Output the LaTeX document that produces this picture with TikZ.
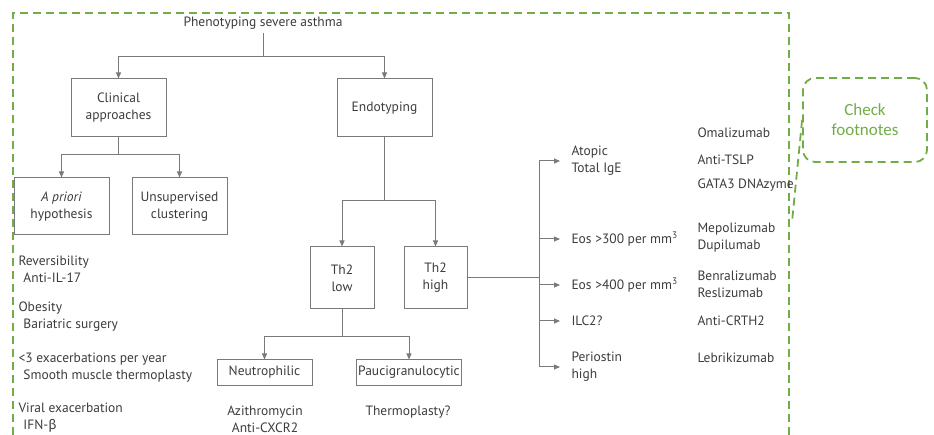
\documentclass[tikz,border=0pt]{standalone}
\usepackage{fontspec}
\setmainfont{PT Sans}
\newfontfamily\notefont{Carlito}
\newfontfamily\greekfont{Fira Sans}
\usetikzlibrary{arrows.meta}
\definecolor{linegray}{HTML}{7A7A7A}
\definecolor{txtgray}{HTML}{3C3C3C}
\definecolor{notegreen}{HTML}{70AD47}
\tikzset{
every picture/.style={
line width=1pt
},
txt/.style={text=txtgray, font=\fontsize{13.5}{17}\selectfont},
box/.style={txt, draw=linegray, align=center, inner sep=2pt},
lbl/.style={txt, align=left, inner sep=0pt, anchor=west},
ln/.style={draw=linegray},
arr/.style={draw=linegray, -{Triangle[length=6pt,width=5pt]}},
gdash/.style={draw=notegreen, line width=1.8pt, dash pattern=on 8pt off 5pt}
}

\begin{document}
\begin{tikzpicture}[x=1pt, y=-1pt]
  \useasboundingbox (0,0) rectangle (934,435);

  % green frame and note
  \draw [gdash] (13,435) -- (13,13) -- (789,13) -- (789,435);
  \node [gdash, rounded corners=12pt, minimum width=124pt, minimum height=84pt, align=center,
         text=notegreen, font=\notefont\fontsize{17}{20}\selectfont] (note) at (865,120) {Check\\footnotes};
  \coordinate (notetip) at (792,222);
  \draw [gdash] (note.west) -- (notetip);

  % top of the tree
  \node [txt] (pheno) at (263,23) {Phenotyping severe asthma};
  \node [box, minimum width=95pt, minimum height=58pt] (clin) at (118.5,108) {Clinical\\approaches};
  \node [box, minimum width=95pt, minimum height=58pt] (endo) at (384.5,108) {Endotyping};
  \coordinate (p1) at (263,57);
  \draw [ln] (pheno) -- (p1);
  \draw [arr] (p1) -| (clin);
  \draw [arr] (p1) -| (endo);

  % clinical approaches
  \node [box, minimum width=95pt, minimum height=57pt] (apriori) at (61.5,206.5) {\textit{A priori}\\hypothesis};
  \node [box, minimum width=95pt, minimum height=57pt] (unsup) at (179.5,206.5) {Unsupervised\\clustering};
  \coordinate (c1) at (118.5,155);
  \draw [ln] (clin) -- (c1);
  \draw [arr] (c1) -| (apriori);
  \draw [arr] (c1) -| (unsup);

  \node [lbl] (revers) at (18,269.5) {Reversibility\\\hspace{5pt}Anti-IL-17};
  \node [lbl] (obes) at (18,317) {Obesity\\\hspace{5pt}Bariatric surgery};
  \node [lbl] (exac) at (18,367.5) {<3 exacerbations per year\\\hspace{5pt}Smooth muscle thermoplasty};
  \node [lbl] (viral) at (18,417.5) {Viral exacerbation\\\hspace{5pt}IFN-{\greekfont β}};

  % endotyping
  \node [box, minimum width=64pt, minimum height=62pt] (thlow) at (342,278) {Th2\\low};
  \node [box, minimum width=63pt, minimum height=62pt] (thhigh) at (435.5,278) {Th2\\high};
  \coordinate (e1) at (384.5,201);
  \draw [ln] (endo) -- (e1);
  \draw [arr] (e1) -| (thlow);
  \draw [arr] (e1) -| (thhigh);

  % Th2 low
  \node [box, minimum width=95pt, minimum height=25pt] (neutro) at (264.5,372.5) {Neutrophilic};
  \node [box, minimum width=94pt, minimum height=25pt] (pauci) at (409,372.5) {Paucigranulocytic};
  \coordinate (l1) at (342,337);
  \draw [ln] (thlow) -- (l1);
  \draw [arr] (l1) -| (neutro);
  \draw [arr] (l1) -| (pauci);
  \node [txt, align=center] (azithro) at (265,419.5) {Azithromycin\\Anti-CXCR2};
  \node [txt] (thermo) at (408,412) {Thermoplasty?};

  % Th2 high
  \coordinate (h1) at (539,278);
  \draw [ln] (thhigh) -- (h1);
  \node [lbl] (atopic) at (560,161) {\hspace{11pt}Atopic\\\hspace{11pt}Total IgE};
  \node [lbl] (eos3) at (560,239) {\hspace{11pt}Eos >300 per mm\textsuperscript{3}};
  \node [lbl] (eos4) at (560,285) {\hspace{11pt}Eos >400 per mm\textsuperscript{3}};
  \node [lbl] (ilc) at (560,321) {\hspace{11pt}ILC2?};
  \node [lbl] (perio) at (560,367) {\hspace{11pt}Periostin\\\hspace{11pt}high};
  \draw [arr] (h1) |- (atopic);
  \draw [arr] (h1) |- (eos3);
  \draw [arr] (h1) |- (eos4);
  \draw [arr] (h1) |- (ilc);
  \draw [arr] (h1) |- (perio);

  % drugs
  \node [lbl] (omal) at (697,133) {Omalizumab};
  \node [lbl] (tslp) at (697,160) {Anti-TSLP};
  \node [lbl] (gata) at (697,185) {GATA3 DNAzyme};
  \node [lbl] (mepo) at (697,238) {Mepolizumab\\Dupilumab};
  \node [lbl] (benra) at (697,284) {Benralizumab\\Reslizumab};
  \node [lbl] (crth) at (697,321) {Anti-CRTH2};
  \node [lbl] (lebri) at (697,358) {Lebrikizumab};

\end{tikzpicture}
\end{document}
